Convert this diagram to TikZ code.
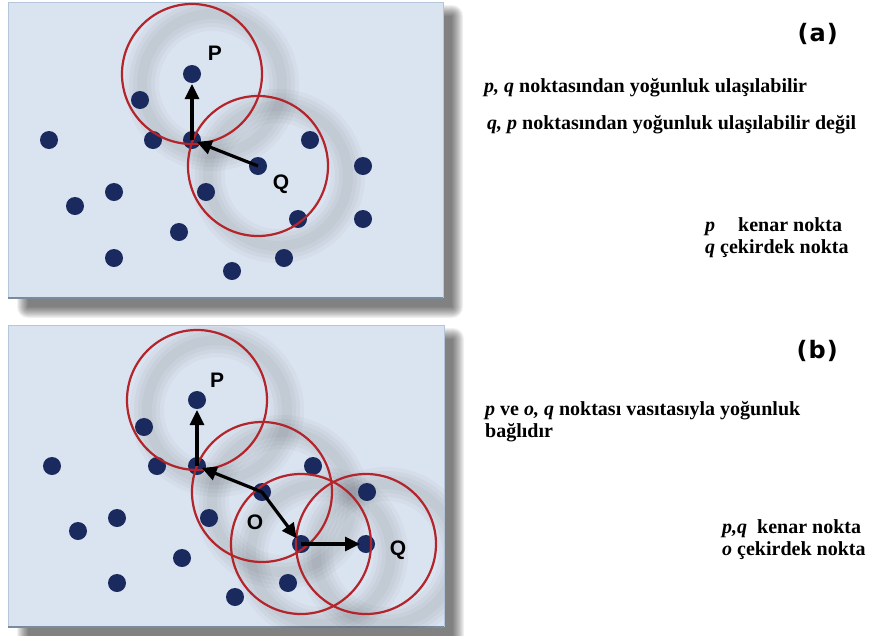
\documentclass[tikz,border=0pt]{standalone}
\usepackage{fontspec}
\setmainfont{Liberation Serif}
\newfontfamily\lsans{Liberation Sans}
\newfontfamily\dsans{DejaVu Sans}
\usetikzlibrary{arrows.meta}
\definecolor{panelfill}{HTML}{DAE4F0}
\definecolor{paneledge}{HTML}{B4C6DA}
\definecolor{paneldark}{HTML}{7A8BA0}
\definecolor{dotc}{HTML}{1A2A5E}
\definecolor{ringc}{HTML}{B3242B}
\pgfdeclarelayer{bg}
\pgfdeclarelayer{shade}
\pgfsetlayers{bg,shade,main}
\tikzset{
 dotn/.style={circle, fill=dotc, minimum size=18pt, inner sep=0pt},
 ring/.style={draw=ringc, line width=2.2pt},
 arr/.style={draw=black, line width=3.2pt, -{Triangle[length=15pt,width=14pt]}, shorten >=5pt},
 ptlabel/.style={font=\lsans\bfseries\fontsize{21}{21}\selectfont, inner sep=0pt},
 panlabel/.style={font=\dsans\bfseries\fontsize{24}{24}\selectfont, inner sep=0pt, anchor=base east},
 txt/.style={font=\bfseries\fontsize{20}{24}\selectfont, inner sep=0pt, anchor=base west},
 cshade/.style={draw=black, opacity=0.028},
}
\newcommand\panelshade[4]{%
 \foreach \k in {0,...,11}{%
  \fill[black, opacity=0.055, rounded corners=\k pt] ({#1+20-\k},{#2+14-\k}) rectangle ({#3+9+\k},{#4+9+\k});}}
\newcommand\ringshade[1]{%
 \foreach \w in {34,26,18,10}{\draw[cshade, line width=\w pt] ([shift={(20,10)}]#1.center) circle (70);}}
\begin{document}
\begin{tikzpicture}[x=1pt,y=-1pt]
\useasboundingbox (0,0) rectangle (869,635);
% panels
\begin{pgfonlayer}{bg}
 \panelshade{8}{2}{443}{298}
 \panelshade{8}{325}{444}{627}
 \fill[panelfill] (8,2) rectangle (443,298);
 \draw[paneledge, line width=1pt] (8,298) -- (8,2) -- (443,2) -- (443,298);
 \draw[paneldark, line width=1.3pt] (8,298) -- (443,298);
 \fill[panelfill] (8,325) rectangle (444,627);
 \draw[paneledge, line width=1pt] (8,627) -- (8,325) -- (444,325) -- (444,627);
 \draw[paneldark, line width=1.3pt] (8,627) -- (444,627);
\end{pgfonlayer}
% ---------- panel (a) dots
\node[dotn] (aP) at (192,74) {};
\node[dotn] (a2) at (140,100) {};
\node[dotn] (a3) at (49,140) {};
\node[dotn] (a4) at (153,140) {};
\node[dotn] (ap) at (192,140) {};
\node[dotn] (a6) at (310,140) {};
\node[dotn] (aQ) at (258,166) {};
\node[dotn] (a8) at (363,166) {};
\node[dotn] (a9) at (114,192) {};
\node[dotn] (a10) at (206,192) {};
\node[dotn] (a11) at (75,206) {};
\node[dotn] (a12) at (298,219) {};
\node[dotn] (a13) at (363,219) {};
\node[dotn] (a14) at (179,232) {};
\node[dotn] (a15) at (114,258) {};
\node[dotn] (a16) at (284,258) {};
\node[dotn] (a17) at (232,271) {};
% ---------- panel (b) dots
\node[dotn] (bP) at (197,400) {};
\node[dotn] (b2) at (144,427) {};
\node[dotn] (b3) at (52,466) {};
\node[dotn] (b4) at (157,466) {};
\node[dotn] (bp) at (197,466) {};
\node[dotn] (b6) at (313,466) {};
\node[dotn] (bo) at (262,492) {};
\node[dotn] (b8) at (367,492) {};
\node[dotn] (b9) at (117,518) {};
\node[dotn] (b10) at (209,518) {};
\node[dotn] (b11) at (78,531) {};
\node[dotn] (bm) at (301,544) {};
\node[dotn] (bQ) at (366,544) {};
\node[dotn] (b14) at (182,558) {};
\node[dotn] (b15) at (117,583) {};
\node[dotn] (b16) at (288,583) {};
\node[dotn] (b17) at (235,597) {};
% ring shadows
\begin{pgfonlayer}{shade}
 \begin{scope}
  \clip (8,2) rectangle (443,298);
  \ringshade{aP}\ringshade{aQ}
 \end{scope}
 \begin{scope}
  \clip (8,325) rectangle (444,627);
  \ringshade{bP}\ringshade{bo}\ringshade{bm}\ringshade{bQ}
 \end{scope}
\end{pgfonlayer}
% rings
\draw[ring] (aP.center) circle (70);
\draw[ring] (aQ.center) circle (70);
\draw[ring] (bP.center) circle (70);
\draw[ring] (bo.center) circle (70);
\draw[ring] (bm.center) circle (70);
\draw[ring] (bQ.center) circle (70);
% arrows
\draw[arr, shorten >=10pt] (ap.center) -- (aP.center);
\draw[arr] (aQ.center) -- (ap.center);
\draw[arr, shorten >=10pt] (bp.center) -- (bP.center);
\draw[arr] (bo.center) -- (bp.center);
\draw[arr, shorten >=7pt] (bo.center) -- (bm.center);
\draw[arr, shorten >=6pt] (bm.center) -- (bQ.center);
% point labels
\node[ptlabel] (laP) at (215,53) {P};
\node[ptlabel] (laQ) at (281,184) {Q};
\node[ptlabel] (lbP) at (217,380) {P};
\node[ptlabel] (lbO) at (255,522) {O};
\node[ptlabel] (lbQ) at (398,550) {Q};
% texts
\node[panlabel] (la) at (838,41) {(\kern1pt a\kern1pt)};
\node[txt] (t1) at (484,92) {\textit{p, q} noktasından yoğunluk ulaşılabilir};
\node[txt] (t2) at (487,129) {\textit{q, p} noktasından yoğunluk ulaşılabilir değil};
\node[txt] (t3) at (705,231) {\textit{p}\hspace{23pt}kenar nokta};
\node[txt] (t4) at (705,253) {\textit{q} çekirdek nokta};
\node[panlabel] (lb) at (838,358) {(\kern1pt b\kern1pt)};
\node[txt] (t5) at (485,415) {\textit{p} ve \textit{o, q} noktası vasıtasıyla yoğunluk};
\node[txt] (t6) at (485,437) {bağlıdır};
\node[txt] (t7) at (722,533) {\textit{p,q}\hspace{10pt}kenar nokta};
\node[txt] (t8) at (722,555) {\textit{o} çekirdek nokta};
\end{tikzpicture}
\end{document}
